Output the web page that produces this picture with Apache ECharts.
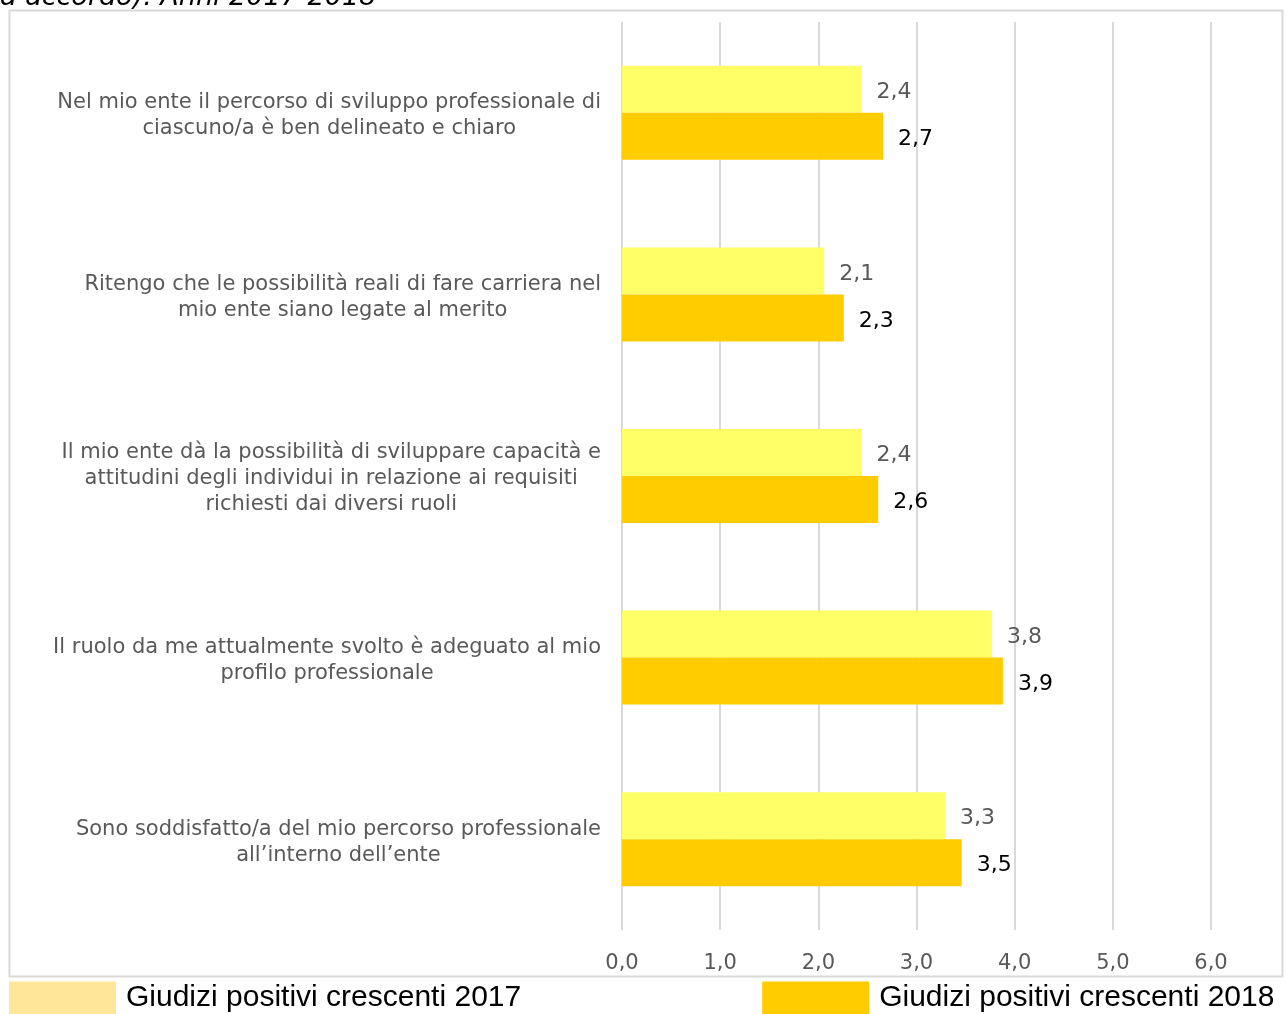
<!DOCTYPE html>
<html>
<head>
<meta charset="utf-8">
<script src="https://cdn.jsdelivr.net/npm/echarts@6/dist/echarts.min.js"></script>
<style>
  html, body { margin: 0; padding: 0; background: #fff; }
  #chart { width: 1287px; height: 1014px; }
</style>
</head>
<body>
<div id="chart"></div>
<script>
// categories, top to bottom
var categories = [
    'Nel mio ente il percorso di sviluppo professionale di\nciascuno/a è ben delineato e chiaro',
    'Ritengo che le possibilità reali di fare carriera nel\nmio ente siano legate al merito',
    'Il mio ente dà la possibilità di sviluppare capacità e\nattitudini degli individui in relazione ai requisiti\nrichiesti dai diversi ruoli',
    'Il ruolo da me attualmente svolto è adeguato al mio\nprofilo professionale',
    'Sono soddisfatto/a del mio percorso professionale\nall’interno dell’ente'
];
var values2017 = [2.44, 2.06, 2.44, 3.77, 3.29];
var values2018 = [2.66, 2.26, 2.61, 3.88, 3.46];
var seriesNames = ['Giudizi positivi crescenti 2017', 'Giudizi positivi crescenti 2018'];
var tickMin = 0, tickMax = 6, tickStep = 1;

var fmt = function (v) { return v.toFixed(1).replace('.', ','); };

var chart = echarts.init(document.getElementById('chart'));

var option = {
    backgroundColor: '#fff',
    animation: false,
    textStyle: { fontFamily: 'DejaVu Sans' },
    graphic: [
        {
            type: 'rect',
            shape: { x: 9.5, y: 10.5, width: 1273, height: 966 },
            style: { fill: null, stroke: '#D9D9D9', lineWidth: 2 },
            silent: true
        },
        {
            type: 'text',
            left: 0,
            top: -16,
            style: {
                text: 'a accordo). Anni 2017-2018',
                font: 'italic 27px "DejaVu Sans"',
                fill: '#000'
            }
        }
    ],
    legend: {
        left: 9,
        top: 978,
        padding: 0,
        itemWidth: 107,
        itemHeight: 33,
        itemGap: 241,
        icon: 'rect',
        textStyle: { fontFamily: 'Liberation Sans', fontSize: 30, color: '#000', padding: [0, 0, 0, 5], lineHeight: 40 },
        data: [
            { name: seriesNames[0], itemStyle: { color: '#FFE699' } },
            { name: seriesNames[1], itemStyle: { color: '#FFCC00' } }
        ]
    },
    grid: { left: 622, right: 76, top: 22, bottom: 84, containLabel: false },
    xAxis: {
        type: 'value',
        min: tickMin,
        max: tickMax,
        interval: tickStep,
        axisLine: { show: false },
        axisTick: { show: false },
        splitLine: { lineStyle: { color: '#D9D9D9', width: 2 } },
        axisLabel: {
            formatter: fmt,
            color: '#595959',
            fontSize: 21,
            margin: 23
        }
    },
    yAxis: {
        type: 'category',
        inverse: true,
        data: categories,
        axisLine: { show: false },
        axisTick: { show: false },
        axisLabel: {
            margin: 21,
            align: 'right',
            padding: [6, 0, 0, 0],
            formatter: function (v) {
                return v.split('\n').map(function (l) { return '{c|' + l + '}'; }).join('\n');
            },
            rich: {
                c: { align: 'center', color: '#595959', fontSize: 21, lineHeight: 26, fontFamily: 'DejaVu Sans' }
            }
        }
    },
    series: [
        {
            name: seriesNames[0],
            type: 'bar',
            data: values2017,
            barWidth: 47,
            barGap: '0%',
            itemStyle: { color: '#FFFF66' },
            label: {
                show: true,
                position: 'right',
                distance: 15,
                offset: [0, 3],
                formatter: function (p) { return fmt(p.value); },
                color: '#595959',
                fontSize: 22
            }
        },
        {
            name: seriesNames[1],
            type: 'bar',
            data: values2018,
            barWidth: 47,
            barGap: '0%',
            itemStyle: { color: '#FFCC00' },
            label: {
                show: true,
                position: 'right',
                distance: 15,
                offset: [0, 3],
                formatter: function (p) { return fmt(p.value); },
                color: '#000',
                fontSize: 22
            }
        }
    ]
};

chart.setOption(option);
window.addEventListener('resize', function () {
    chart.resize();
});
</script>
</body>
</html>
